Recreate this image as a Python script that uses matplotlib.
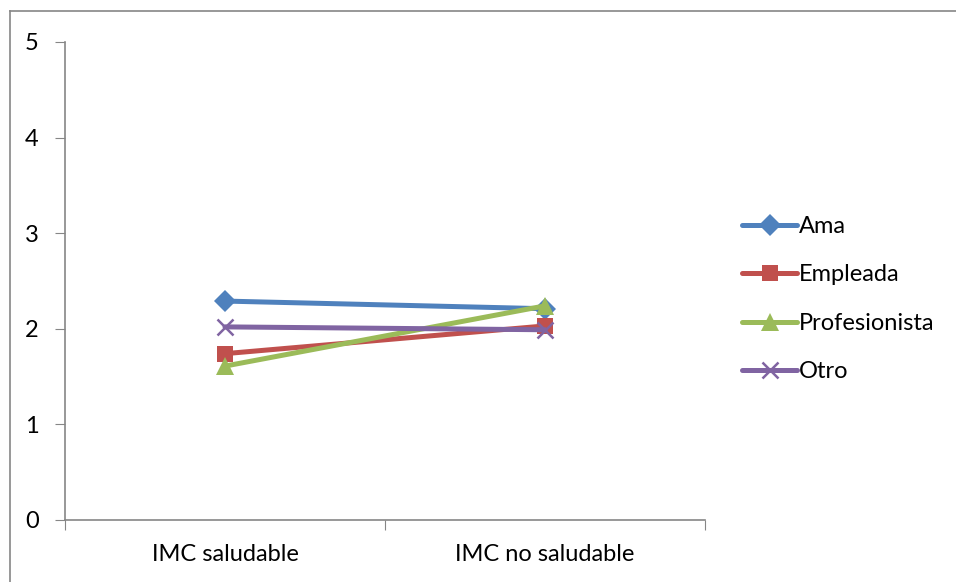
# line chart: IMC saludable vs no saludable by occupation

import matplotlib.pyplot as plt
from matplotlib.lines import Line2D

categories = ["IMC saludable", "IMC no saludable"]
ama = [2.29, 2.21]
empleada = [1.74, 2.03]
profesionista = [1.61, 2.24]
otro = [2.02, 1.99]

series = [
    ("Ama", ama, "#4F81BD", "D", 11),
    ("Empleada", empleada, "#C0504D", "s", 12),
    ("Profesionista", profesionista, "#9BBB59", "^", 13),
    ("Otro", otro, "#8064A2", "x", 12),
]

plt.rcParams["font.family"] = ["Lato", "DejaVu Sans"]
fs = 17

fig = plt.figure(figsize=(9.56, 5.82), dpi=100)
ax = fig.add_axes([65 / 956, 62 / 582, 640 / 956, 478 / 582])

x = list(range(len(categories)))
for name, vals, color, marker, ms in series:
    ax.plot(x, vals, color=color, lw=3.6, marker=marker, ms=ms,
            mew=1.8 if marker == "x" else 0, label=name,
            solid_capstyle="round")

ax.set_xlim(-0.5, 1.5)
ax.set_ylim(0, 5)
ax.set_yticks([0, 1, 2, 3, 4, 5])
ax.set_xticks([-0.5, 0.5, 1.5])
ax.set_xticklabels([])
ax.set_xticks(x, minor=True)
ax.set_xticklabels(categories, minor=True)
ax.tick_params(axis="x", which="minor", length=0, pad=17, labelsize=fs)
ax.tick_params(axis="x", which="major", length=7, color="#868686", direction="out")
ax.tick_params(axis="y", length=7, color="#868686", direction="out", pad=12, labelsize=fs)

for side in ["top", "right"]:
    ax.spines[side].set_visible(False)
for side in ["left", "bottom"]:
    ax.spines[side].set_color("#868686")
    ax.spines[side].set_linewidth(1.2)

handles = []
for name, vals, color, marker, ms in series:
    handles.append(Line2D([], [], color=color, lw=3.6, marker=marker, ms=ms,
                          mew=1.8 if marker == "x" else 0,
                          solid_capstyle="round"))
leg = fig.legend(handles, [s[0] for s in series], loc="upper left",
                 bbox_to_anchor=(742 / 956, 1 - 216 / 582), frameon=False,
                 fontsize=fs, handlelength=2.35, handletextpad=0.05,
                 labelspacing=1.16, borderpad=0, borderaxespad=0)

# partial chart border (top and left edges)
fig.add_artist(Line2D([10 / 956, 1], [1 - 11 / 582, 1 - 11 / 582],
                      color="#868686", lw=1.2))
fig.add_artist(Line2D([10 / 956, 10 / 956], [0, 1 - 11 / 582],
                      color="#868686", lw=1.2))

fig.savefig("out.png", dpi=100)
